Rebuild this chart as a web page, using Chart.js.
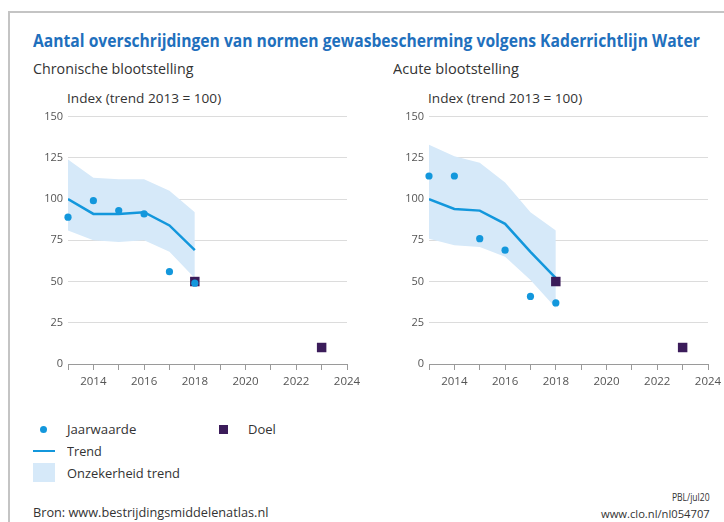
<!DOCTYPE html>
<html><head><meta charset="utf-8">
<script src="https://cdn.jsdelivr.net/npm/chart.js@4/dist/chart.umd.min.js"></script>
<style>
html,body{margin:0;padding:0;width:724px;height:522px;overflow:hidden;background:#fff;font-family:"Open Sans","Noto Sans",sans-serif;color:#333;}
.t{position:absolute;white-space:nowrap;line-height:1;transform-origin:0 0;}
.r{transform-origin:100% 0;}
#frameTop{position:absolute;left:8px;top:11px;width:716px;height:2px;background:#c4c4c4;}
#frameLeft{position:absolute;left:8px;top:11px;width:2px;height:511px;background:#c4c4c4;}
canvas{position:absolute;}
.mk{position:absolute;}
</style></head>
<body>
<div id="frameTop"></div><div id="frameLeft"></div>
<div class="t" data-w="667" style="left:33px;top:32px;font-size:17px;font-weight:700;color:#1f70bd;">Aantal overschrijdingen van normen gewasbescherming volgens Kaderrichtlijn Water</div>
<div class="t" data-w="160" style="left:33px;top:62px;font-size:14px;color:#333;">Chronische blootstelling</div>
<div class="t" data-w="126" style="left:393px;top:62px;font-size:14px;color:#333;">Acute blootstelling</div>
<div class="t" data-w="154" style="left:67px;top:93px;font-size:12px;color:#333;">Index (trend 2013 = 100)</div>
<div class="t" data-w="154" style="left:428px;top:93px;font-size:12px;color:#333;">Index (trend 2013 = 100)</div>

<canvas id="c1" width="350" height="290" style="left:20px;top:105px;width:350px;height:290px;"></canvas>
<canvas id="c2" width="350" height="290" style="left:381px;top:105px;width:350px;height:290px;"></canvas>

<div class="mk" style="left:40px;top:426px;width:7px;height:7px;border-radius:50%;background:#1397dc;"></div>
<div class="t" data-w="69" style="left:67px;top:423px;font-size:13px;">Jaarwaarde</div>
<div class="mk" style="left:219px;top:425px;width:9px;height:9px;background:#3b1c5a;"></div>
<div class="t" data-w="28" style="left:248px;top:423px;font-size:13px;">Doel</div>
<div class="mk" style="left:33px;top:450px;width:22px;height:2px;background:#1397dc;"></div>
<div class="t" data-w="35" style="left:67px;top:445px;font-size:13px;">Trend</div>
<div class="mk" style="left:33px;top:463px;width:22px;height:19px;background:#d6e9f9;"></div>
<div class="t" data-w="113" style="left:67px;top:467px;font-size:13px;">Onzekerheid trend</div>

<div class="t" data-w="235" style="left:33px;top:507px;font-size:12.5px;">Bron: www.bestrijdingsmiddelenatlas.nl</div>
<div class="t r" data-w="38" style="right:14px;top:491px;font-size:11.5px;">PBL/jul20</div>
<div class="t r" data-w="109" style="right:14px;top:508px;font-size:11.5px;">www.clo.nl/nl054707</div>

<script>
// ---- data ----
const years = [2013, 2014, 2015, 2016, 2017, 2018];
const chronJaar  = [89, 99, 93, 91, 56, 49];
const chronTrend = [100, 91, 91, 92, 84, 69];
const chronUpper = [124, 113, 112, 112, 105, 92];
const chronLower = [81, 75, 74, 75, 68, 52];
const acuteJaar  = [114, 114, 76, 69, 41, 37];
const acuteTrend = [100, 94, 93, 85, 68, 52];
const acuteUpper = [133, 126, 122, 110, 92, 81];
const acuteLower = [76, 72, 71, 65, 51, 34];
const doelYears  = [2018, 2023];
const doelValues = [50, 10];
const yTickValues = [0, 25, 50, 75, 100, 125, 150];
const xTickLabels = [2014, 2016, 2018, 2020, 2022, 2024];

// fit text widths
document.querySelectorAll('.t[data-w]').forEach(el => {
  const w = el.offsetWidth;
  const target = +el.dataset.w;
  el.style.transform = 'scaleX(' + (target / w) + ')';
});

const BLUE = '#1397dc', BAND = '#d6e9f9', DOEL = '#3b1c5a';
const pts = (xs, ys) => xs.map((x, i) => ({x, y: ys[i]}));

function makeChart(id, jaar, trend, upper, lower) {
  new Chart(document.getElementById(id), {
    type: 'scatter',
    data: {
      datasets: [
        {label: 'upper', data: pts(years, upper), showLine: true, borderWidth: 0, borderColor: 'rgba(0,0,0,0)', backgroundColor: BAND, fill: '+1', pointRadius: 0, order: 4},
        {label: 'lower', data: pts(years, lower), showLine: true, borderWidth: 0, borderColor: 'rgba(0,0,0,0)', pointRadius: 0, fill: false, order: 3},
        {label: 'Trend', data: pts(years, trend), showLine: true, borderWidth: 2.5, borderColor: BLUE, pointRadius: 0, fill: false, order: 2},
        {label: 'Doel', data: pts(doelYears, doelValues), pointStyle: 'rect', pointRadius: 6.7, backgroundColor: DOEL, borderColor: DOEL, borderWidth: 0, order: 1, clip: false},
        {label: 'Jaarwaarde', data: pts(years, jaar), pointStyle: 'circle', pointRadius: 3.6, backgroundColor: BLUE, borderWidth: 0, order: 0, clip: false}
      ]
    },
    options: {
      responsive: false, animation: false, devicePixelRatio: 1, events: [],
      layout: {padding: {top: 11, right: 23, left: 0, bottom: 0}},
      plugins: {legend: {display: false}, tooltip: {enabled: false}, title: {display: false}},
      scales: {
        x: {
          type: 'linear', min: 2013, max: 2024,
          afterFit: s => { s.height = 31; },
          afterBuildTicks: s => { s.ticks = []; for (let y = 2013; y <= 2024; y++) s.ticks.push({value: y}); },
          ticks: {autoSkip: false, maxRotation: 0, padding: 5, color: '#555', font: {family: 'Open Sans', size: 11.5},
            callback: v => xTickLabels.includes(v) ? String(v) : ''},
          grid: {drawOnChartArea: false, drawTicks: true, tickLength: 6, color: '#9a9a9a'},
          border: {display: true, color: '#9a9a9a', width: 1}
        },
        y: {
          min: 0, max: 150,
          afterFit: s => { s.width = 48; },
          afterBuildTicks: s => { s.ticks = yTickValues.map(v => ({value: v})); },
          ticks: {padding: 5, color: '#555', font: {family: 'Open Sans', size: 11}},
          grid: {drawTicks: false, color: '#dcdcdc', lineWidth: 1},
          border: {display: false}
        }
      }
    }
  });
}
makeChart('c1', chronJaar, chronTrend, chronUpper, chronLower);
makeChart('c2', acuteJaar, acuteTrend, acuteUpper, acuteLower);
</script>
</body></html>
